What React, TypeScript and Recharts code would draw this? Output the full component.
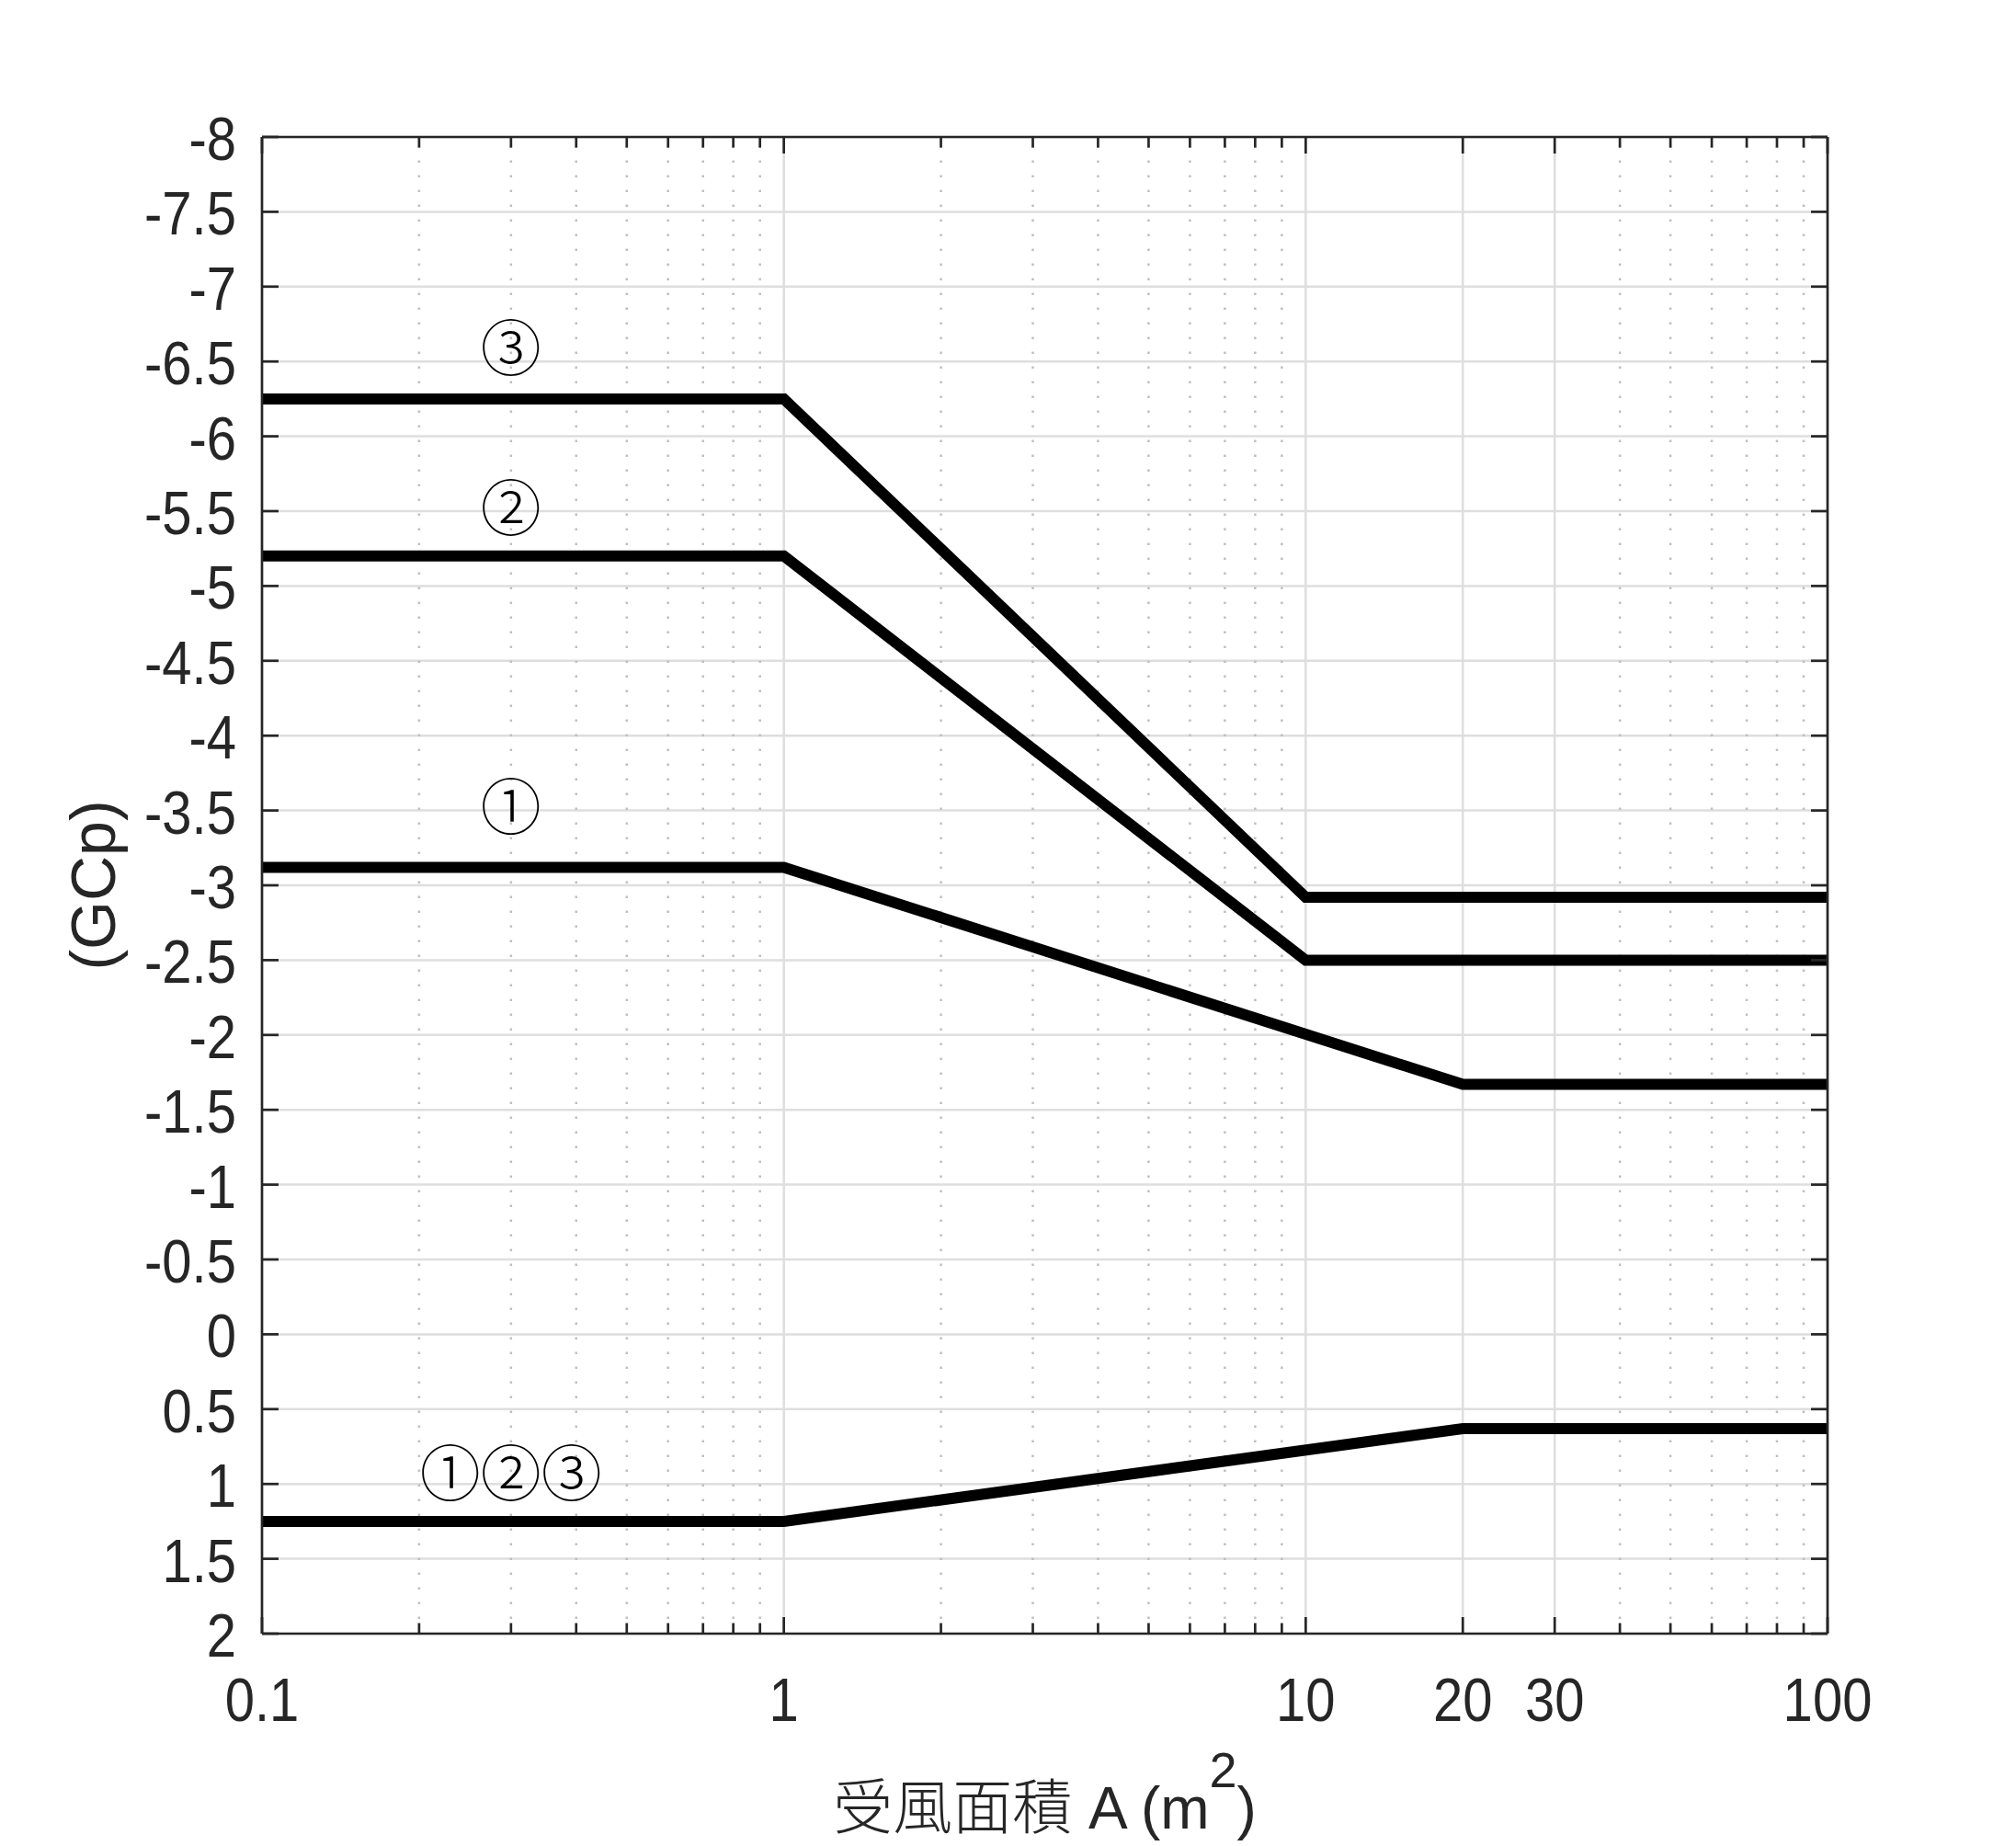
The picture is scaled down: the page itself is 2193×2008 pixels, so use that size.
import React from 'react';
import { LineChart, Line, XAxis, YAxis, CartesianGrid, ReferenceLine, ReferenceDot } from 'recharts';

// ---- axis ticks ----
const X_MAJOR_TICKS = [0.1, 1, 10, 20, 30, 100];
const X_MINOR_TICKS = [0.2, 0.3, 0.4, 0.5, 0.6, 0.7, 0.8, 0.9, 2, 3, 4, 5, 6, 7, 8, 9, 40, 50, 60, 70, 80, 90];
const X_GRID_SOLID = [1, 10, 20, 30];
const Y_TICKS = [-8, -7.5, -7, -6.5, -6, -5.5, -5, -4.5, -4, -3.5, -3, -2.5, -2, -1.5, -1, -0.5, 0, 0.5, 1, 1.5, 2];

// ---- series (x = area A in m^2, y = GCp) ----
const ZONE3_X = [0.1, 1, 10, 100];
const ZONE3_Y = [-6.25, -6.25, -2.92, -2.92];
const ZONE2_X = [0.1, 1, 10, 100];
const ZONE2_Y = [-5.2, -5.2, -2.5, -2.5];
const ZONE1_X = [0.1, 1, 20, 100];
const ZONE1_Y = [-3.12, -3.12, -1.67, -1.67];
const POSITIVE_X = [0.1, 1, 20, 100];
const POSITIVE_Y = [1.25, 1.25, 0.63, 0.63];

// ---- annotations ----
const NOTE_TEXT = ['③', '②', '①', '①②③'];
const NOTE_X = [0.3, 0.3, 0.3, 0.3];
const NOTE_Y = [-6.62, -5.55, -3.55, 0.9];

const X_TITLE_CJK = '受風面積';
const X_TITLE_LATIN = ' A (m';
const X_TITLE_SUP = '2';
const X_TITLE_END = ')';
const Y_TITLE = '(GCp)';

const toData = (xs: number[], ys: number[]) => xs.map((x, i) => ({ x, y: ys[i] }));

const AX = '#262626';
const TICK_FONT = "'Liberation Sans', Arial, sans-serif";
const TICK_FS = 58;
const TICK_SY = 1.14;

const LeftTick = (p: any) => {
  const { x, y, payload } = p;
  return (
    <g>
      <line x1={x} x2={x + 18} y1={y} y2={y} stroke={AX} strokeWidth={2.7} />
      <text
        transform={`translate(${x - 28},${y + 25}) scale(1,${TICK_SY})`}
        textAnchor="end"
        fontFamily={TICK_FONT}
        fontSize={TICK_FS}
        fill={AX}
      >
        {String(payload.value)}
      </text>
    </g>
  );
};

const RightTick = (p: any) => {
  const { x, y } = p;
  return <line x1={x} x2={x - 18} y1={y} y2={y} stroke={AX} strokeWidth={2.7} />;
};

const BottomTick = (p: any) => {
  const { x, y, payload } = p;
  const major = X_MAJOR_TICKS.includes(payload.value);
  return (
    <g>
      <line x1={x} x2={x} y1={y} y2={y - (major ? 18 : 11.5)} stroke={AX} strokeWidth={2.7} />
      {major && (
        <text
          transform={`translate(${x},${y + 95}) scale(1,${TICK_SY})`}
          textAnchor="middle"
          fontFamily={TICK_FONT}
          fontSize={TICK_FS}
          fill={AX}
        >
          {String(payload.value)}
        </text>
      )}
    </g>
  );
};

const TopTick = (p: any) => {
  const { x, y, payload } = p;
  const major = X_MAJOR_TICKS.includes(payload.value);
  return <line x1={x} x2={x} y1={y} y2={y + (major ? 18 : 11.5)} stroke={AX} strokeWidth={2.7} />;
};

const XTitle = (p: any) => {
  const vb = p.viewBox || {};
  const cx = vb.x + vb.width / 2;
  const by = vb.y + 212;
  return (
    <text x={cx} y={by} textAnchor="middle" fill={AX} fontFamily={TICK_FONT} fontSize={64}>
      <tspan fontFamily="'Noto Sans CJK TC', 'Noto Sans CJK JP', sans-serif" fontSize={65} fontWeight={300}>
        {X_TITLE_CJK}
      </tspan>
      <tspan>{X_TITLE_LATIN}</tspan>
      <tspan dy={-45} fontSize={54}>
        {X_TITLE_SUP}
      </tspan>
      <tspan dy={45}>{X_TITLE_END}</tspan>
    </text>
  );
};

const YTitle = (p: any) => {
  const vb = p.viewBox || {};
  const cy = vb.y + vb.height / 2;
  const bx = 125;
  return (
    <text
      x={bx}
      y={cy}
      transform={`rotate(-90, ${bx}, ${cy})`}
      textAnchor="middle"
      fill={AX}
      fontFamily={TICK_FONT}
      fontSize={68}
    >
      {Y_TITLE}
    </text>
  );
};

const noteShape = (text: string) => (p: any) => (
  <text
    x={p.cx}
    y={p.cy}
    textAnchor="middle"
    dominantBaseline="central"
    fontFamily="'Noto Sans CJK JP', 'Noto Sans CJK TC', 'DejaVu Serif', serif"
    fontWeight={300}
    fontSize={66}
    fill="#000"
  >
    {text}
  </text>
);

const SERIES = [
  { key: 'zone3', data: toData(ZONE3_X, ZONE3_Y) },
  { key: 'zone2', data: toData(ZONE2_X, ZONE2_Y) },
  { key: 'zone1', data: toData(ZONE1_X, ZONE1_Y) },
  { key: 'positive', data: toData(POSITIVE_X, POSITIVE_Y) },
];

export default function App() {
  return (
    <div style={{ width: 2193, height: 2008, background: '#fff' }}>
      <style>{'body{margin:0;background:#fff;}'}</style>
      <LineChart width={2193} height={2008} margin={{ top: 148, right: 204, bottom: 81, left: 0 }}>
        <CartesianGrid
          xAxisId="bottom"
          yAxisId="left"
          vertical={false}
          stroke="#dedede"
          strokeWidth={2.5}
        />
        {X_MINOR_TICKS.map((v) => (
          <ReferenceLine
            key={'m' + v}
            x={v}
            xAxisId="bottom"
            yAxisId="left"
            stroke="#bfbfbf"
            strokeWidth={2.5}
            strokeDasharray="2.5 13.5"
            isFront={false}
          />
        ))}
        {X_GRID_SOLID.map((v) => (
          <ReferenceLine
            key={'g' + v}
            x={v}
            xAxisId="bottom"
            yAxisId="left"
            stroke="#dedede"
            strokeWidth={2.5}
            isFront={false}
          />
        ))}
        <XAxis
          xAxisId="bottom"
          dataKey="x"
          type="number"
          scale="log"
          domain={[0.1, 100]}
          allowDataOverflow
          ticks={[...X_MAJOR_TICKS, ...X_MINOR_TICKS].sort((a, b) => a - b)}
          interval={0}
          tickLine={false}
          tickSize={0}
          tickMargin={0}
          tick={<BottomTick />}
          axisLine={{ stroke: AX, strokeWidth: 2.7 }}
          height={150}
          orientation="bottom"
          label={<XTitle />}
        />
        <XAxis
          xAxisId="top"
          dataKey="x"
          type="number"
          scale="log"
          domain={[0.1, 100]}
          allowDataOverflow
          ticks={[...X_MAJOR_TICKS, ...X_MINOR_TICKS].sort((a, b) => a - b)}
          interval={0}
          tickLine={false}
          tickSize={0}
          tickMargin={0}
          tick={<TopTick />}
          axisLine={{ stroke: AX, strokeWidth: 2.7 }}
          height={1}
          orientation="top"
        />
        <YAxis
          yAxisId="left"
          type="number"
          domain={[-8, 2]}
          reversed
          allowDataOverflow
          ticks={Y_TICKS}
          interval={0}
          tickLine={false}
          tickSize={0}
          tickMargin={0}
          tick={<LeftTick />}
          axisLine={{ stroke: AX, strokeWidth: 2.7 }}
          width={285}
          orientation="left"
          label={<YTitle />}
        />
        <YAxis
          yAxisId="right"
          type="number"
          domain={[-8, 2]}
          reversed
          allowDataOverflow
          ticks={Y_TICKS}
          interval={0}
          tickLine={false}
          tickSize={0}
          tickMargin={0}
          tick={<RightTick />}
          axisLine={{ stroke: AX, strokeWidth: 2.7 }}
          width={1}
          orientation="right"
        />
        {SERIES.map((s) => (
          <Line
            key={s.key}
            xAxisId="bottom"
            yAxisId="left"
            data={s.data}
            dataKey="y"
            type="linear"
            stroke="#000"
            strokeWidth={12}
            dot={false}
            activeDot={false}
            isAnimationActive={false}
            strokeLinejoin="miter"
          />
        ))}
        {NOTE_TEXT.map((t, i) => (
          <ReferenceDot
            key={'n' + i}
            xAxisId="bottom"
            yAxisId="left"
            x={NOTE_X[i]}
            y={NOTE_Y[i]}
            r={1}
            shape={noteShape(t)}
          />
        ))}
      </LineChart>
    </div>
  );
}
